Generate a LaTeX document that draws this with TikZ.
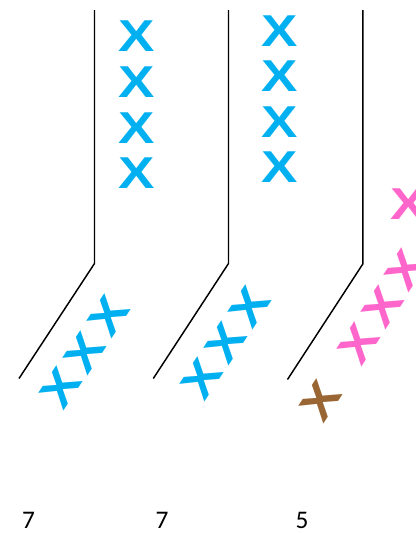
\documentclass[tikz,border=0pt]{standalone}
\usepackage{fontspec}
\usepackage{graphicx}
\setmainfont{Carlito}
\newfontfamily\xfont{Liberation Sans}
\definecolor{xblue}{RGB}{0,176,240}
\definecolor{xpink}{RGB}{255,102,204}
\definecolor{xbrown}{RGB}{153,102,51}
\newcommand\widex{\scalebox{1.22}[1]{X}}
\tikzset{
  xmark/.style={inner sep=0pt, outer sep=0pt, font=\xfont\bfseries\fontsize{33.5}{36}\selectfont},
  blue x/.style={xmark, text=xblue},
  pink x/.style={xmark, text=xpink},
  brown x/.style={xmark, text=xbrown},
  diag/.style={rotate=56.8},
  wall/.style={draw=black, line width=1.1pt, line join=miter},
  count/.style={inner sep=0pt, font=\fontsize{19}{22}\selectfont}
}
\begin{document}
\begin{tikzpicture}[x=0.75pt, y=-0.75pt]
\useasboundingbox (0,0) rectangle (416,533);
% walls
\coordinate (t1) at (94.5,10);  \coordinate (b1) at (94.5,263.5); \coordinate (e1) at (19,378.5);
\coordinate (t2) at (228.5,10); \coordinate (b2) at (228.5,263.5); \coordinate (e2) at (153.3,378.5);
\coordinate (t3) at (362.8,10); \coordinate (b3) at (362.8,264); \coordinate (e3) at (287.5,379.5);
\draw[wall] (t1) -- (b1) -- (e1);
\draw[wall] (t2) -- (b2) -- (e2);
\draw[wall] (t3) -- (b3) -- (e3);
% column 1
\node[blue x] (a1) at (137,36) {\widex};
\node[blue x] (a2) at (137,82) {\widex};
\node[blue x] (a3) at (137,128) {\widex};
\node[blue x] (a4) at (137,173) {\widex};
\node[blue x, diag] (a5) at (61,388) {\widex};
\node[blue x, diag] (a6) at (85,353) {\widex};
\node[blue x, diag] (a7) at (108.5,316) {\widex};
% column 2
\node[blue x] (c1) at (279.5,31) {\widex};
\node[blue x] (c2) at (279.5,76) {\widex};
\node[blue x] (c3) at (279.5,122) {\widex};
\node[blue x] (c4) at (279.5,167) {\widex};
\node[blue x, diag] (c5) at (202,379) {\widex};
\node[blue x, diag] (c6) at (226,343) {\widex};
\node[blue x, diag] (c7) at (249.5,306.5) {\widex};
% column 3
\node[pink x] (d1) at (409,204) {\widex};
\node[brown x, diag] (d2) at (320.5,401) {\widex};
\node[pink x, diag] (d3) at (359,344) {\widex};
\node[pink x, diag] (d4) at (382.5,306.5) {\widex};
\node[pink x, diag] (d5) at (406,270) {\widex};
% counts
\node[count] (l1) at (28.5,520) {7};
\node[count] (l2) at (162,520) {7};
\node[count] (l3) at (302,520) {5};
\end{tikzpicture}
\end{document}
